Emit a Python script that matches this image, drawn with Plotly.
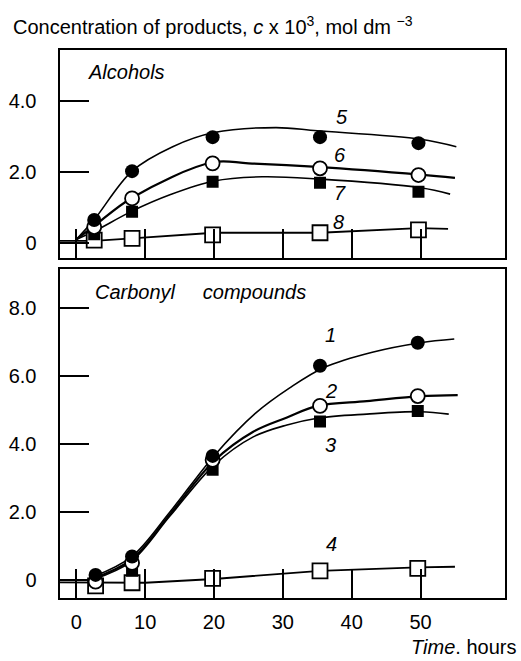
import plotly.graph_objects as go

# ---------------- data ----------------
# measured points (time, hours)
t_alc = [2.6, 8.1, 19.8, 35.4, 49.7]
alc5 = [0.65, 2.03, 2.99, 2.99, 2.82]
alc6 = [0.45, 1.26, 2.25, 2.11, 1.92]
alc7 = [0.25, 0.88, 1.73, 1.70, 1.45]
alc8 = [0.08, 0.13, 0.23, 0.29, 0.37]

t_carb = [2.8, 8.1, 19.8, 35.4, 49.6]
carb1 = [0.15, 0.69, 3.65, 6.30, 6.98]
carb2 = [-0.05, 0.50, 3.53, 5.12, 5.41]
carb3 = [0.00, 0.27, 3.24, 4.66, 4.97]
carb4 = [-0.17, -0.08, 0.05, 0.27, 0.34]

# fitted curves (nodes)
c5_t = [0.0, 2.6, 8.1, 14.0, 20.0, 29.0, 35.0, 50.0, 55.2]
c5_v = [0.10, 0.66, 2.03, 2.72, 3.12, 3.26, 3.17, 2.93, 2.72]
c6_t = [0.0, 2.6, 8.1, 19.8, 25.0, 35.0, 50.0, 55.0]
c6_v = [0.10, 0.48, 1.28, 2.28, 2.25, 2.15, 1.93, 1.84]
c7_t = [0.0, 2.6, 8.1, 13.6, 20.0, 27.0, 35.0, 50.0, 54.3]
c7_v = [0.10, 0.33, 0.90, 1.36, 1.75, 1.87, 1.81, 1.56, 1.38]
c8_t = [-2.44, 2.6, 8.1, 20.0, 35.4, 49.7, 54.0]
c8_v = [0.06, 0.06, 0.13, 0.29, 0.29, 0.42, 0.40]

c1_t = [2.5, 8.0, 13.6, 20.0, 26.0, 31.0, 36.0, 43.0, 50.0, 54.9]
c1_v = [0.10, 0.68, 2.00, 3.65, 4.90, 5.65, 6.25, 6.70, 6.98, 7.09]
c2_t = [2.5, 8.0, 13.6, 20.0, 25.7, 30.6, 35.0, 42.2, 50.0, 55.4]
c2_v = [0.05, 0.60, 1.93, 3.50, 4.36, 4.78, 5.12, 5.26, 5.41, 5.44]
c3_t = [2.5, 8.0, 13.6, 20.0, 25.7, 30.6, 35.0, 42.2, 50.0, 54.1]
c3_v = [0.02, 0.55, 1.88, 3.38, 4.21, 4.56, 4.76, 4.88, 4.95, 4.88]
c4_t = [-2.44, 2.8, 8.1, 10.0, 20.0, 35.4, 49.6, 55.0]
c4_v = [-0.07, -0.07, -0.08, -0.08, 0.03, 0.27, 0.37, 0.39]

x_ticks = [0, 10, 20, 30, 40, 50]
x_tick_text = ["0", "10", "20", "30", "40", "50"]
y_top_ticks = [0, 2, 4]
y_top_text = ["0", "2.0", "4.0"]
y_bot_ticks = [0, 2, 4, 6, 8]
y_bot_text = ["0", "2.0", "4.0", "6.0", "8.0"]

# curve labels: (text, t, value)
top_labels = [("5", 38.55, 3.55), ("6", 38.3, 2.49), ("7", 38.3, 1.40), ("8", 38.06, 0.60)]
bot_labels = [("1", 36.96, 7.21), ("2", 36.96, 5.57), ("3", 36.96, 3.97), ("4", 37.1, 1.05)]

FONT = "Liberation Sans, Arial, sans-serif"

fig = go.Figure()

def curve(t, v, axes, width=1.6, shape="spline"):
    fig.add_trace(go.Scatter(x=t, y=v, mode="lines", xaxis=axes[0], yaxis=axes[1],
                             line=dict(color="black", width=width, shape=shape, smoothing=1.0),
                             showlegend=False, hoverinfo="skip"))

def marks(t, v, axes, symbol, size, filled):
    fig.add_trace(go.Scatter(x=t, y=v, mode="markers", xaxis=axes[0], yaxis=axes[1],
                             marker=dict(symbol=symbol, size=size,
                                         color="black" if filled else "white",
                                         line=dict(color="black", width=0 if filled else 1.8)),
                             showlegend=False))

TOP = ("x2", "y2")
BOT = ("x", "y")

# top panel: alcohols
curve(c8_t, c8_v, TOP, 1.8, "linear")
curve(c7_t, c7_v, TOP)
curve(c6_t, c6_v, TOP, 2.2)
curve(c5_t, c5_v, TOP)
marks(t_alc, alc8, TOP, "square", 15, False)
marks(t_alc, alc7, TOP, "square", 12, True)
marks(t_alc, alc6, TOP, "circle", 14, False)
marks(t_alc, alc5, TOP, "circle", 14, True)

# bottom panel: carbonyl compounds
curve(c4_t, c4_v, BOT, 1.8, "linear")
curve(c3_t, c3_v, BOT)
curve(c2_t, c2_v, BOT, 2.2)
curve(c1_t, c1_v, BOT)
marks(t_carb, carb4, BOT, "square", 15, False)
marks(t_carb, carb3, BOT, "square", 12, True)
marks(t_carb, carb2, BOT, "circle", 14, False)
marks(t_carb, carb1, BOT, "circle", 14, True)

W, H = 521, 661
xdom = [59.5 / W, 505 / W]
axis_common = dict(showline=True, mirror=True, linecolor="black", linewidth=2,
                   ticks="inside", ticklen=29, tickwidth=2, tickcolor="black",
                   showgrid=False, zeroline=False,
                   tickfont=dict(family=FONT, size=20, color="black"))

fig.update_layout(
    width=W, height=H,
    margin=dict(l=0, r=0, t=0, b=0),
    paper_bgcolor="white", plot_bgcolor="white",
    showlegend=False,
    xaxis=dict(domain=xdom, anchor="y", range=[-2.44, 62.27],
               tickmode="array", tickvals=x_ticks, ticktext=x_tick_text,
               ticklabelstandoff=5, **axis_common),
    yaxis=dict(domain=[1 - 598 / H, 1 - 269 / H], anchor="x", range=[-0.529, 9.147],
               tickmode="array", tickvals=y_bot_ticks, ticktext=y_bot_text,
               ticklabelstandoff=17, **axis_common),
    xaxis2=dict(domain=xdom, anchor="y2", range=[-2.44, 62.27],
                tickmode="array", tickvals=x_ticks, ticktext=x_tick_text,
                showticklabels=False, **axis_common),
    yaxis2=dict(domain=[1 - 258 / H, 1 - 50 / H], anchor="x2", range=[-0.424, 5.452],
                tickmode="array", tickvals=y_top_ticks, ticktext=y_top_text,
                ticklabelstandoff=17, **axis_common),
)

ann = []
for txt, tx, vy in top_labels:
    ann.append(dict(x=tx, y=vy, xref="x2", yref="y2", text="<i>%s</i>" % txt, showarrow=False,
                    xanchor="center", yanchor="middle", font=dict(family=FONT, size=20, color="black")))
for txt, tx, vy in bot_labels:
    ann.append(dict(x=tx, y=vy, xref="x", yref="y", text="<i>%s</i>" % txt, showarrow=False,
                    xanchor="center", yanchor="middle", font=dict(family=FONT, size=20, color="black")))

ann.append(dict(x=1.4, y=4.84, xref="x2", yref="y2", text="<i>Alcohols</i>", showarrow=False,
                xanchor="left", yanchor="middle", font=dict(family=FONT, size=20, color="black")))
ann.append(dict(x=2.4, y=8.46, xref="x", yref="y",
                text="<i>Carbonyl\u00a0\u00a0\u00a0\u00a0\u00a0compounds</i>", showarrow=False,
                xanchor="left", yanchor="middle", font=dict(family=FONT, size=20, color="black")))
ann.append(dict(x=11 / W, y=1 - 25 / H, xref="paper", yref="paper",
                text="Concentration of products, <i>c</i> x 10<sup>3</sup>, mol dm <sup>\u22123</sup>",
                showarrow=False, xanchor="left", yanchor="middle",
                font=dict(family=FONT, size=20, color="black")))
ann.append(dict(x=409 / W, y=1 - 647 / H, xref="paper", yref="paper",
                text="<i>Time</i>. hours", showarrow=False, xanchor="left", yanchor="middle",
                font=dict(family=FONT, size=20, color="black")))
fig.update_layout(annotations=ann)

fig.write_html("out.html", config={"displayModeBar": False},
               post_script="document.body.style.margin='0px';")
